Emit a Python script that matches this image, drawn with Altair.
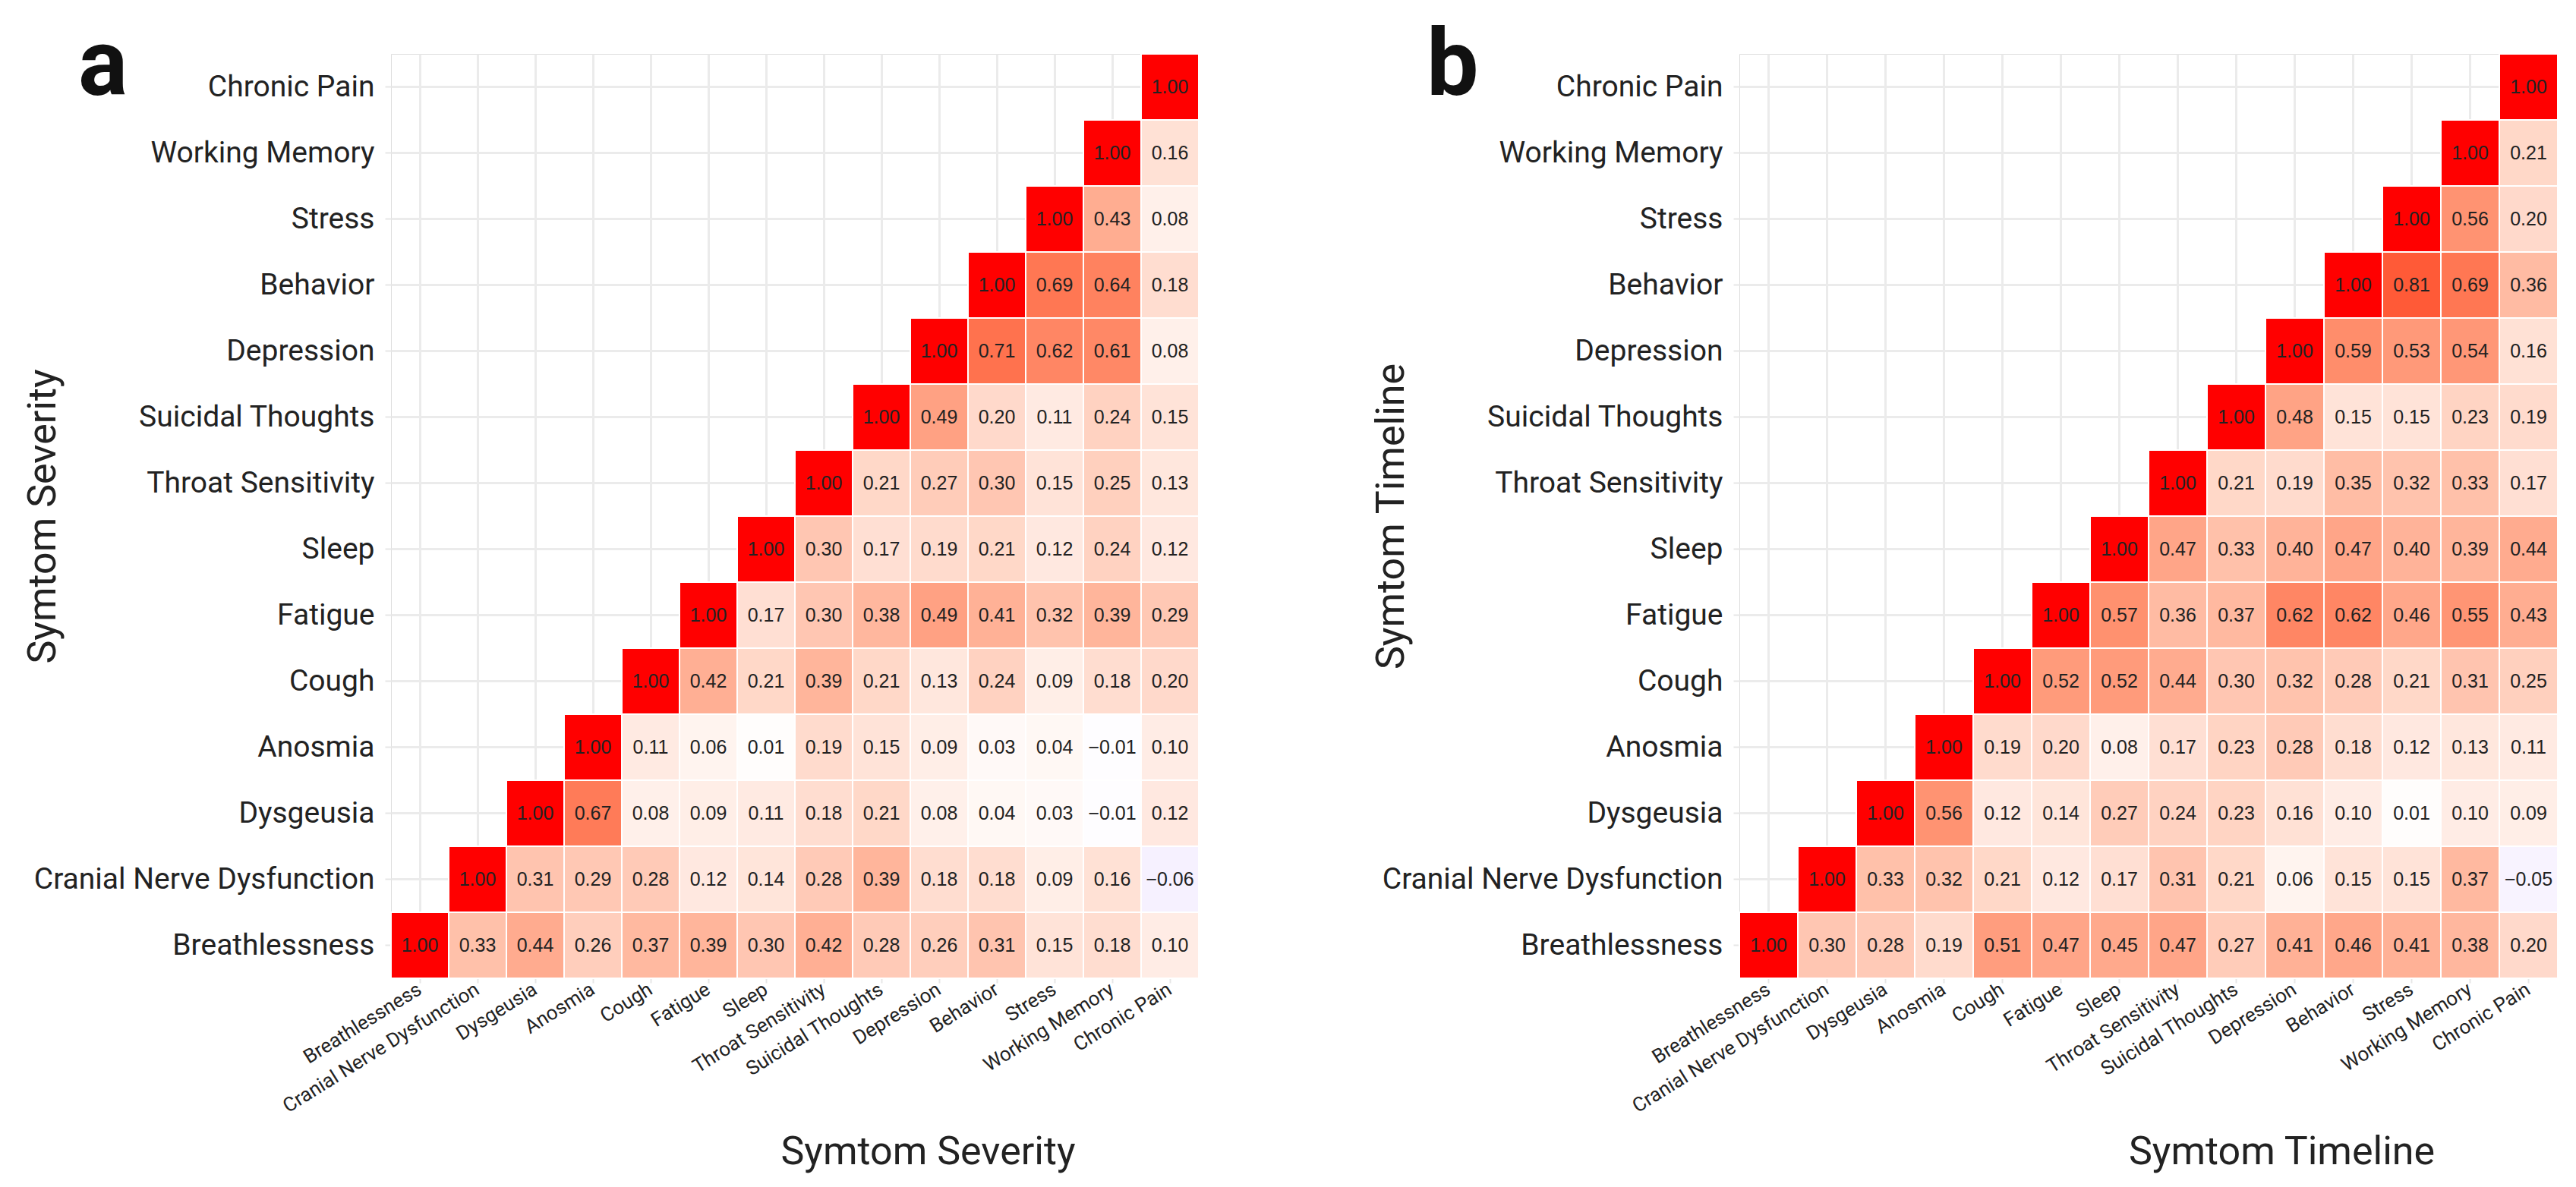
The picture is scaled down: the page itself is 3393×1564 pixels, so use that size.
import altair as alt
import pandas as pd

order = [
    "Breathlessness", "Cranial Nerve Dysfunction", "Dysgeusia", "Anosmia",
    "Cough", "Fatigue", "Sleep", "Throat Sensitivity", "Suicidal Thoughts",
    "Depression", "Behavior", "Stress", "Working Memory", "Chronic Pain",
]

# each row: correlations of the row variable with itself and every later variable
severity_rows = [
    [1.00, 0.33, 0.44, 0.26, 0.37, 0.39, 0.30, 0.42, 0.28, 0.26, 0.31, 0.15, 0.18, 0.10],
    [1.00, 0.31, 0.29, 0.28, 0.12, 0.14, 0.28, 0.39, 0.18, 0.18, 0.09, 0.16, -0.06],
    [1.00, 0.67, 0.08, 0.09, 0.11, 0.18, 0.21, 0.08, 0.04, 0.03, -0.01, 0.12],
    [1.00, 0.11, 0.06, 0.01, 0.19, 0.15, 0.09, 0.03, 0.04, -0.01, 0.10],
    [1.00, 0.42, 0.21, 0.39, 0.21, 0.13, 0.24, 0.09, 0.18, 0.20],
    [1.00, 0.17, 0.30, 0.38, 0.49, 0.41, 0.32, 0.39, 0.29],
    [1.00, 0.30, 0.17, 0.19, 0.21, 0.12, 0.24, 0.12],
    [1.00, 0.21, 0.27, 0.30, 0.15, 0.25, 0.13],
    [1.00, 0.49, 0.20, 0.11, 0.24, 0.15],
    [1.00, 0.71, 0.62, 0.61, 0.08],
    [1.00, 0.69, 0.64, 0.18],
    [1.00, 0.43, 0.08],
    [1.00, 0.16],
    [1.00],
]

timeline_rows = [
    [1.00, 0.30, 0.28, 0.19, 0.51, 0.47, 0.45, 0.47, 0.27, 0.41, 0.46, 0.41, 0.38, 0.20],
    [1.00, 0.33, 0.32, 0.21, 0.12, 0.17, 0.31, 0.21, 0.06, 0.15, 0.15, 0.37, -0.05],
    [1.00, 0.56, 0.12, 0.14, 0.27, 0.24, 0.23, 0.16, 0.10, 0.01, 0.10, 0.09],
    [1.00, 0.19, 0.20, 0.08, 0.17, 0.23, 0.28, 0.18, 0.12, 0.13, 0.11],
    [1.00, 0.52, 0.52, 0.44, 0.30, 0.32, 0.28, 0.21, 0.31, 0.25],
    [1.00, 0.57, 0.36, 0.37, 0.62, 0.62, 0.46, 0.55, 0.43],
    [1.00, 0.47, 0.33, 0.40, 0.47, 0.40, 0.39, 0.44],
    [1.00, 0.21, 0.19, 0.35, 0.32, 0.33, 0.17],
    [1.00, 0.48, 0.15, 0.15, 0.23, 0.19],
    [1.00, 0.59, 0.53, 0.54, 0.16],
    [1.00, 0.81, 0.69, 0.36],
    [1.00, 0.56, 0.20],
    [1.00, 0.21],
    [1.00],
]

panel_letters = ["a", "b"]
panel_titles = ["Symtom Severity", "Symtom Timeline"]


def to_long(rows):
    recs = []
    for i, vals in enumerate(rows):
        for k, v in enumerate(vals):
            recs.append({"x": order[i + k], "y": order[i], "value": v})
    return pd.DataFrame(recs)


LABEL_FONT = "Roboto"
TEXT_COLOR = "#222222"
PLOT_H = 1218


def panel(rows, axis_title, letter, width, xtitle_shift):
    df = to_long(rows)
    x_enc = alt.X(
        "x:N", sort=order,
        scale=alt.Scale(paddingInner=0, paddingOuter=0),
        axis=alt.Axis(
            title=axis_title, labelAngle=-32, labelAlign="right", labelBaseline="middle",
            labelFont=LABEL_FONT, labelFontSize=26, labelColor=TEXT_COLOR, labelLimit=0,
            titleFont=LABEL_FONT, titleFontSize=52, titleFontWeight="normal",
            titleColor=TEXT_COLOR, titleY=203, titleBaseline="top",
            titleX=width / 2 + xtitle_shift, titleAlign="center",
            grid=True, gridColor="#EBEBEB", gridWidth=3,
            ticks=True, tickColor="#E6E6E6", tickSize=6, tickWidth=2,
            domain=False, labelPadding=6, zindex=0,
        ),
    )
    y_enc = alt.Y(
        "y:N", sort=order[::-1],
        scale=alt.Scale(paddingInner=0, paddingOuter=0),
        axis=alt.Axis(
            title=axis_title, labelFont=LABEL_FONT, labelFontSize=39,
            labelColor=TEXT_COLOR, labelLimit=0,
            titleFont=LABEL_FONT, titleFontSize=52, titleFontWeight="normal",
            titleColor=TEXT_COLOR, titleX=-432, titleBaseline="bottom",
            grid=True, gridColor="#EBEBEB", gridWidth=3,
            ticks=True, tickColor="#E6E6E6", tickSize=8, tickWidth=2,
            domain=False, labelPadding=14, zindex=0,
        ),
    )
    base = alt.Chart(df)
    rect = base.mark_rect(stroke="white", strokeWidth=2).encode(
        x=x_enc, y=y_enc,
        color=alt.Color(
            "value:Q",
            scale=alt.Scale(domain=[-1, 0, 1], range=["#0000FF", "#FFFFFF", "#FF0000"],
                            interpolate="lab"),
            legend=None,
        ),
    )
    text = base.mark_text(font="Liberation Sans", fontSize=25, color=TEXT_COLOR).encode(
        x=x_enc, y=y_enc, text=alt.Text("value:Q", format=".2f"),
    )
    tag = alt.Chart(pd.DataFrame({"letter": [letter]})).mark_text(
        font=LABEL_FONT, fontSize=122, fontWeight="bold", color="#111111",
        align="left", baseline="alphabetic",
    ).encode(text="letter:N", x=alt.value(-412), y=alt.value(54))
    return alt.layer(rect, text, tag).properties(width=width, height=PLOT_H)


chart = alt.hconcat(
    panel(severity_rows, panel_titles[0], panel_letters[0], 1064, 175),
    panel(timeline_rows, panel_titles[1], panel_letters[1], 1078, 175),
    spacing=224,
).properties(
    padding={"left": 21, "top": 18, "right": 5, "bottom": 2},
).configure_view(stroke=None).configure(background="white")

chart.save("out.html", embed_options={"renderer": "svg", "actions": False})
